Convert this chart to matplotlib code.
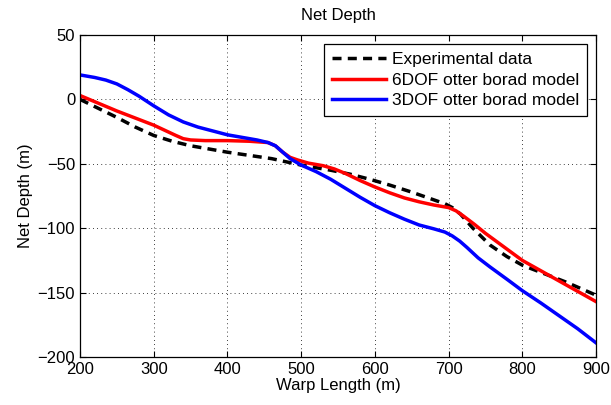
import numpy as np
import matplotlib.pyplot as plt

plt.rcParams['font.family'] = ['Liberation Sans', 'DejaVu Sans']

# Experimental net depth vs warp length
exp_x = [200, 225, 250, 275, 300, 325, 350, 375, 400, 430, 460, 480, 500, 520, 540,
         566, 593, 620, 650, 675, 695, 705, 716, 733, 756, 779, 801, 833, 860, 888, 900]
exp_y = [0, -7, -14, -21.5, -28, -32.5, -36, -38.5, -41, -43.5, -46, -48.5, -51, -53,
         -55, -58, -62, -66.5, -72, -77, -81, -84, -89, -100, -113, -122, -129, -136,
         -142, -149, -152]

# 6DOF otter board model
dof6_x = [200, 225, 250, 275, 300, 315, 330, 340, 350, 370, 400, 430, 455, 465, 475,
          485, 495, 510, 530, 545, 560, 580, 600, 620, 640, 660, 680, 700, 710, 720,
          735, 750, 775, 800, 825, 850, 875, 900]
dof6_y = [3, -3, -9, -14.5, -20, -24, -28, -30.5, -31.5, -32, -32, -32.5, -33.5, -36,
          -41, -45, -47, -49.5, -51.5, -54, -57.5, -63, -68, -72.5, -76.5, -79.5, -82,
          -84, -86.5, -90.5, -97, -104, -114.5, -125, -133, -141, -149, -157]

# 3DOF otter board model
dof3_x = [200, 220, 235, 250, 265, 280, 300, 320, 340, 360, 380, 400, 420, 440, 455,
          465, 475, 485, 500, 520, 540, 560, 580, 600, 620, 640, 660, 680, 695, 705,
          715, 725, 740, 756, 780, 800, 825, 850, 875, 900]
dof3_y = [19, 17, 15, 12, 7.5, 2.5, -5, -12, -17.5, -21.5, -24.5, -27.5, -29.5, -31.5,
          -33.5, -36, -41, -46, -51, -56, -62, -69, -76, -82.5, -88, -93, -97.5, -100.5,
          -103, -106, -110, -115, -123, -130, -140, -148.5, -158, -168, -178, -189]

fig = plt.figure(figsize=(6.11, 4.05), dpi=100)
ax = fig.add_axes([0.131, 0.1185, 0.8445, 0.7951])

ax.plot(exp_x, exp_y, color='black', linestyle='--', linewidth=2.5,
        dashes=(2.6, 1.8), label='Experimental data')
ax.plot(dof6_x, dof6_y, color='red', linewidth=2.5, label='6DOF otter borad model')
ax.plot(dof3_x, dof3_y, color='blue', linewidth=2.5, label='3DOF otter borad model')

ax.set_xlim(200, 900)
ax.set_ylim(-200, 50)
ax.set_xticks(np.arange(200, 901, 100))
ax.set_yticks(np.arange(-200, 51, 50))
ax.grid(True, color='black', linestyle=(0, (1, 4)), linewidth=0.6)
ax.tick_params(direction='in', top=True, right=True, labelsize=12, length=4)
for s in ax.spines.values():
    s.set_linewidth(0.9)

ax.set_xlabel('Warp Length (m)', fontsize=12, labelpad=1)
ax.set_ylabel('Net Depth (m)', fontsize=12, labelpad=3)
ax.set_title('Net Depth', fontsize=12, pad=11)

leg = ax.legend(loc='upper right', bbox_to_anchor=(0.9826, 0.972), fontsize=12.5,
                handlelength=3.1, handletextpad=0.35, labelspacing=0.32,
                borderpad=0.45, borderaxespad=0, fancybox=False, framealpha=1)
leg.get_frame().set_edgecolor('black')
leg.get_frame().set_linewidth(0.9)

fig.savefig('out.png', dpi=100)
